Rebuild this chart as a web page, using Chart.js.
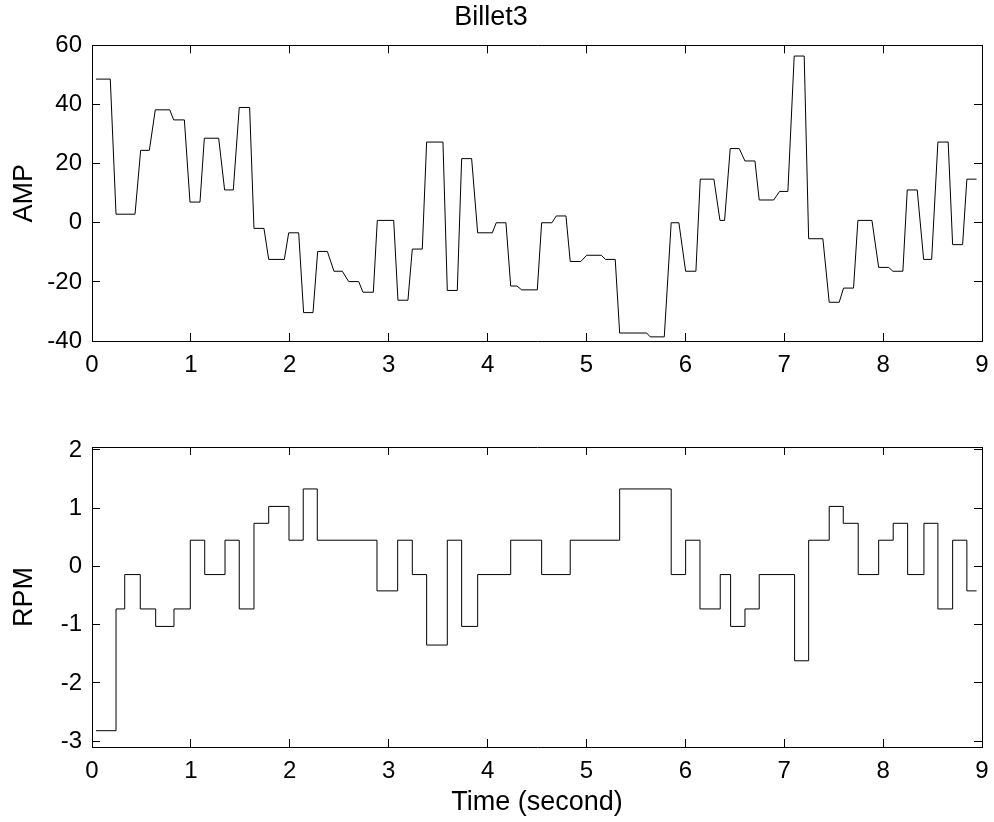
<!DOCTYPE html>
<html>
<head>
<meta charset="utf-8">
<title>Billet3</title>
<script src="https://cdn.jsdelivr.net/npm/chart.js@4.4.1/dist/chart.umd.min.js"></script>
<style>
  html, body { margin: 0; padding: 0; background: #fff; }
  .panel { position: absolute; left: 0; width: 994px; height: 411px; }
  #amp-panel { top: 0; }
  #rpm-panel { top: 411px; }
</style>
</head>
<body>
<div class="panel" id="amp-panel"><canvas id="amp"></canvas></div>
<div class="panel" id="rpm-panel"><canvas id="rpm"></canvas></div>
<script>
'use strict';

/* ── Data ── */

// AMP: corner points of the sampled trace (time in s)
const ampTime = [
  0.040, 0.185, 0.243, 0.435, 0.492, 0.580, 0.640, 0.786, 0.826, 0.934,
  0.991, 1.092, 1.136, 1.281, 1.341, 1.429, 1.489, 1.594, 1.638, 1.739,
  1.787, 1.945, 1.989, 2.090, 2.140, 2.235, 2.282, 2.380, 2.447, 2.531,
  2.596, 2.697, 2.740, 2.845, 2.885, 3.051, 3.094, 3.195, 3.239, 3.340,
  3.384, 3.549, 3.593, 3.694, 3.738, 3.839, 3.900, 4.048, 4.088, 4.186,
  4.234, 4.297, 4.345, 4.503, 4.547, 4.651, 4.695, 4.793, 4.836, 4.944,
  5.002, 5.150, 5.194, 5.291, 5.336, 5.609, 5.645, 5.787, 5.857, 5.935,
  6.003, 6.107, 6.151, 6.289, 6.350, 6.397, 6.454, 6.545, 6.603, 6.704,
  6.747, 6.893, 6.953, 7.037, 7.101, 7.202, 7.247, 7.391, 7.455, 7.556,
  7.600, 7.701, 7.745, 7.887, 7.955, 8.056, 8.099, 8.200, 8.244, 8.345,
  8.410, 8.491, 8.554, 8.658, 8.703, 8.804, 8.847, 8.945
];
const ampValue = [
  48.6, 48.6, 2.9, 2.9, 24.5, 24.5, 38.2, 38.2, 34.8, 34.8,
  7.0, 7.0, 28.6, 28.6, 11.1, 11.1, 39.0, 39.0, -1.9, -1.9,
  -12.4, -12.4, -3.4, -3.4, -30.4, -30.4, -9.7, -9.7, -16.4, -16.4,
  -19.9, -19.9, -23.5, -23.5, 0.8, 0.8, -26.2, -26.2, -8.9, -8.9,
  27.3, 27.3, -22.9, -22.9, 21.7, 21.7, -3.4, -3.4, 0.0, 0.0,
  -21.4, -21.4, -22.7, -22.7, 0.0, 0.0, 2.3, 2.3, -13.1, -13.1,
  -11.0, -11.0, -12.4, -12.4, -37.3, -37.3, -38.6, -38.6, 0.0, 0.0,
  -16.4, -16.4, 14.75, 14.75, 0.8, 0.8, 25.1, 25.1, 20.9, 20.9,
  7.7, 7.7, 10.6, 10.6, 56.4, 56.4, -5.4, -5.4, -26.9, -26.9,
  -22.1, -22.1, 0.8, 0.8, -15.1, -15.1, -16.4, -16.4, 11.1, 11.1,
  -12.4, -12.4, 27.3, 27.3, -7.4, -7.4, 14.75, 14.75
];

// RPM: stair levels, each value holds until the next time
const rpmTime = [
  0.040, 0.243, 0.331, 0.488, 0.644, 0.829, 0.994, 1.140, 1.345, 1.489,
  1.638, 1.787, 1.992, 2.136, 2.278, 2.882, 3.091, 3.239, 3.384, 3.593,
  3.738, 3.900, 4.234, 4.547, 4.836, 5.336, 5.857, 6.003, 6.148, 6.353,
  6.458, 6.603, 6.747, 7.105, 7.247, 7.455, 7.597, 7.748, 7.955, 8.102,
  8.248, 8.413, 8.554, 8.703, 8.847, 8.945
];
const rpmValue = [
  -2.82, -0.73, -0.14, -0.73, -1.03, -0.73, 0.45, -0.14, 0.45, -0.73,
  0.74, 1.03, 0.45, 1.33, 0.45, -0.42, 0.45, -0.14, -1.35, 0.45,
  -1.03, -0.14, 0.45, -0.14, 0.45, 1.33, -0.14, 0.45, -0.73, -0.14,
  -1.03, -0.73, -0.14, -1.62, 0.45, 1.03, 0.74, -0.14, 0.45, 0.74,
  -0.14, 0.74, -0.73, 0.45, -0.42, -0.42
];

const timeTicks = [0, 1, 2, 3, 4, 5, 6, 7, 8, 9];
const ampTicks = [-40, -20, 0, 20, 40, 60];
const rpmTicks = [-3, -2, -1, 0, 1, 2];

/* ── Chart setup ── */

Chart.defaults.font.family = 'Arial, "Liberation Sans", Helvetica, sans-serif';
Chart.defaults.color = '#000';

const zip = (xs, ys) => xs.map((x, i) => ({ x, y: ys[i] }));

// MATLAB-like axis: black box edge, inward ticks, fixed box size
function axis(position, min, max, ticks, size, labels, title) {
  return {
    type: 'linear',
    position,
    min,
    max,
    afterBuildTicks: s => { s.ticks = ticks.map(v => ({ value: v })); },
    afterFit: s => {
      if (s.isHorizontal()) s.height = size; else s.width = size;
      // labels may hang over the plot edges, keep the plot box fixed
      s.paddingLeft = s.paddingRight = s.paddingTop = s.paddingBottom = 0;
    },
    border: { display: true, color: '#000', width: 1 },
    grid: { drawOnChartArea: false, drawTicks: true, tickLength: -8, color: '#000', lineWidth: 1 },
    ticks: {
      display: labels,
      autoSkip: false,
      maxRotation: 0,
      padding: 18,
      color: '#000',
      font: { size: 24 }
    },
    title: title
      ? { display: true, text: title.text, color: '#000', font: { size: 27 }, padding: title.padding }
      : { display: false }
  };
}

function makeChart(id, opts) {
  return new Chart(document.getElementById(id), {
    type: 'line',
    data: {
      datasets: [{
        data: opts.data,
        borderColor: '#000',
        borderWidth: 1,
        pointRadius: 0,
        tension: 0,
        stepped: opts.stepped || false
      }]
    },
    options: {
      responsive: true,
      maintainAspectRatio: false,
      animation: false,
      devicePixelRatio: 1,
      layout: { padding: { left: 0, right: 12, top: opts.padTop, bottom: 0 } },
      plugins: {
        legend: { display: false },
        tooltip: { enabled: false },
        title: opts.title
          ? {
              display: true,
              text: opts.title,
              color: '#000',
              font: { size: 27, weight: 'normal' },
              padding: { top: 1, bottom: 12 }
            }
          : { display: false }
      },
      scales: {
        x: axis('bottom', 0, 9, timeTicks, opts.xSize, true, opts.xTitle),
        x2: axis('top', 0, 9, timeTicks, 0, false, null),
        y: axis('left', opts.yMin, opts.yMax, opts.yTicks, 92, true,
                { text: opts.yTitle, padding: { top: 8, bottom: 0 } }),
        y2: axis('right', opts.yMin, opts.yMax, opts.yTicks, 0, false, null)
      }
    }
  });
}

makeChart('amp', {
  data: zip(ampTime, ampValue),
  title: 'Billet3',
  padTop: 0,
  xSize: 70,
  yMin: -40, yMax: 60, yTicks: ampTicks,
  yTitle: 'AMP'
});

makeChart('rpm', {
  data: zip(rpmTime, rpmValue),
  stepped: 'before',
  padTop: 36,
  xSize: 75,
  xTitle: { text: 'Time (second)', padding: { top: 0, bottom: 3 } },
  yMin: -3.1, yMax: 2.05, yTicks: rpmTicks,
  yTitle: 'RPM'
});
</script>
</body>
</html>
